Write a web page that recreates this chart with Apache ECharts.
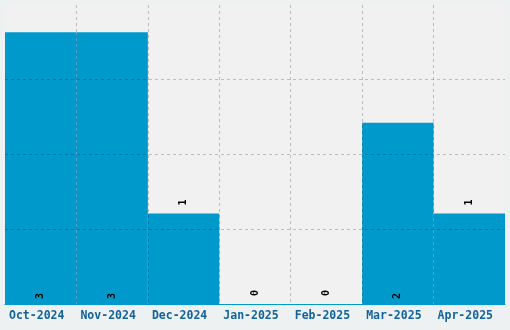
<!DOCTYPE html>
<html>
<head>
<meta charset="utf-8">
<script src="https://cdn.jsdelivr.net/npm/echarts@6/dist/echarts.min.js"></script>
<style>html,body{margin:0;padding:0;background:#eef1f1;}#c{width:510px;height:330px;}</style>
</head>
<body>
<div id="c"></div>
<script>
var categories = ['Oct-2024','Nov-2024','Dec-2024','Jan-2025','Feb-2025','Mar-2025','Apr-2025'];
var values = [3, 3, 1, 0, 0, 2, 1];
var yMax = 3.3;
var yInterval = 0.825;

var chart = echarts.init(document.getElementById('c'));
var data = values.map(function (v) {
  var inside = v >= 2;
  return {
    value: v,
    label: { position: inside ? 'insideBottom' : 'top', distance: inside ? 5 : 8 }
  };
});
chart.setOption({
  backgroundColor: '#eef1f1',
  animation: false,
  grid: { left: 5, right: 5, top: 5, bottom: 26, show: true, backgroundColor: '#f1f1f1', borderWidth: 0 },
  xAxis: {
    type: 'category',
    data: categories,
    z: 5,
    axisLine: { show: true, lineStyle: { color: '#0099cc', width: 1 } },
    axisTick: { show: false },
    axisLabel: { color: '#12639c', fontFamily: 'DejaVu Sans Mono', fontWeight: 'bold', fontSize: 11.5, margin: 6, interval: 0, padding: [0, 8, 0, 0] },
    splitLine: { show: true, showMinLine: false, showMaxLine: false, lineStyle: { color: 'rgba(0,0,0,0.22)', type: [3, 3], width: 1 } }
  },
  yAxis: {
    type: 'value',
    min: 0,
    max: yMax,
    interval: yInterval,
    z: 5,
    axisLine: { show: false },
    axisTick: { show: false },
    axisLabel: { show: false },
    splitLine: { show: true, showMinLine: false, showMaxLine: false, lineStyle: { color: 'rgba(0,0,0,0.22)', type: [3, 3], width: 1 } }
  },
  series: [{
    type: 'bar',
    data: data,
    barWidth: '100%',
    barCategoryGap: 0,
    itemStyle: { color: '#0099cc' },
    label: {
      show: true,
      rotate: 90,
      align: 'left',
      verticalAlign: 'middle',
      color: '#000',
      fontFamily: 'DejaVu Sans Mono',
      fontWeight: 'bold',
      fontSize: 10
    }
  }]
});
</script>
</body>
</html>
